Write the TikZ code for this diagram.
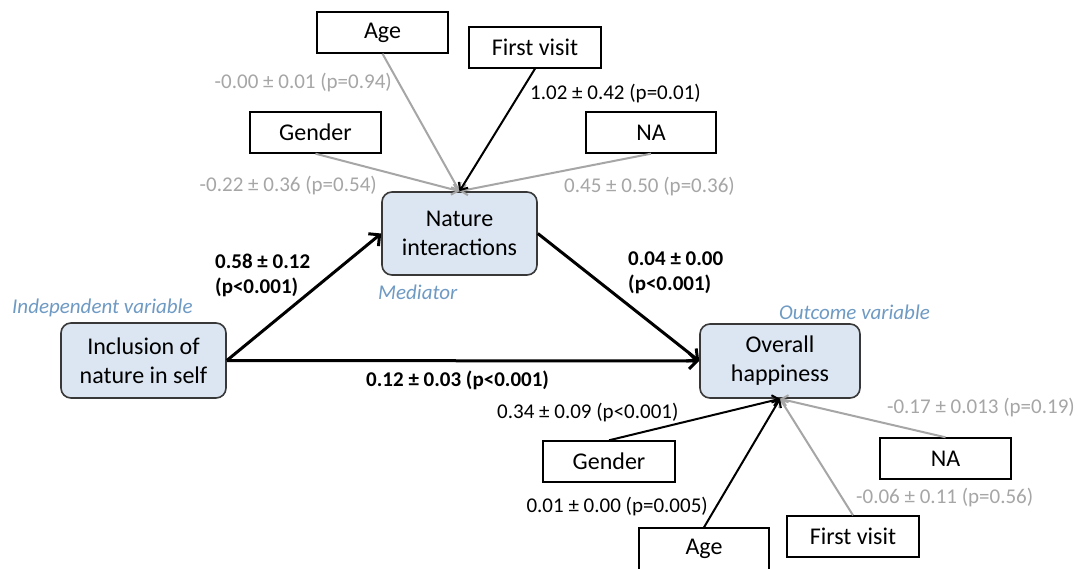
\documentclass[tikz,border=0pt]{standalone}
\usepackage{fontspec}
\setmainfont{Carlito}
\usetikzlibrary{arrows.meta,calc}
\definecolor{boxfill}{HTML}{DCE6F2}
\definecolor{boxline}{HTML}{383838}
\definecolor{grayc}{HTML}{A6A6A6}
\definecolor{rolec}{HTML}{6E9AC4}
\begin{document}
\begin{tikzpicture}[x=1pt,y=-1pt,
  mainbox/.style={draw=boxline, line width=1.6pt, fill=boxfill, rounded corners=10pt, align=center, font=\fontsize{24}{29}\selectfont, inner sep=0pt},
  covbox/.style={draw=black, line width=1.4pt, fill=white, font=\fontsize{24}{29}\selectfont, inner sep=0pt},
  lbl/.style={inner sep=0pt, font=\fontsize{21}{25}\selectfont},
  graylbl/.style={lbl, text=grayc},
  boldlbl/.style={inner sep=0pt, align=left, font=\fontsize{21}{25}\selectfont\bfseries},
  rolelbl/.style={inner sep=0pt, text=rolec, font=\fontsize{21}{25}\selectfont\itshape},
  mainarrow/.style={line width=3pt, -{Straight Barb[length=8pt,width=16pt,line width=3pt]}},
  blackarrow/.style={line width=2pt, -{Straight Barb[length=6pt,width=11pt,line width=2pt]}},
  grayarrow/.style={line width=2pt, grayc, -{Straight Barb[length=6pt,width=11pt,line width=2pt]}}
]
\clip (0,0) rectangle (1078,568);
\fill[white] (0,0) rectangle (1078,568);

% main boxes
\node[mainbox, minimum width=155pt, minimum height=83pt] (nat) at (459.5,233.5) {Nature\\interactions};
\node[mainbox, minimum width=165pt, minimum height=75pt] (inc) at (143.5,360.5) {Inclusion of\\nature in self};
\node[mainbox, minimum width=160pt, minimum height=74pt] (over) at (780,361) {Overall\\happiness};

% covariate boxes (top)
\node[covbox, minimum width=131pt, minimum height=41pt] (ageT) at (382.5,32.5) {Age};
\node[covbox, minimum width=132pt, minimum height=41pt] (fvT) at (535,47.5) {First visit};
\node[covbox, minimum width=131pt, minimum height=41pt] (genT) at (315.5,132.5) {Gender};
\node[covbox, minimum width=130pt, minimum height=41pt] (naT) at (651,132.5) {NA};

% covariate boxes (bottom)
\node[covbox, minimum width=132pt, minimum height=41pt] (genB) at (609,461.5) {Gender};
\node[covbox, minimum width=131pt, minimum height=41pt] (naB) at (945.5,458.5) {NA};
\node[covbox, minimum width=132pt, minimum height=41pt] (fvB) at (853,536.5) {First visit};
\node[covbox, minimum width=130pt, minimum height=42pt] (ageB) at (704,549) {Age};

% main paths
\draw[mainarrow] (inc.east) -- (nat.west);
\draw[mainarrow] (inc.east) -- (over.west);
\draw[mainarrow] (nat.east) -- (over.west);

% top covariate arrows
\draw[grayarrow] (ageT.south) -- (nat.north);
\draw[grayarrow] (genT.south) -- (nat.north);
\draw[grayarrow] (naT.south) -- (nat.north);
\draw[blackarrow] (fvT.south) -- (nat.north);

% bottom covariate arrows
\draw[grayarrow] (naB.north) -- (over.south);
\draw[grayarrow] (fvB.north) -- (over.south);
\draw[blackarrow] (genB.north) -- (over.south);
\draw[blackarrow] (ageB.north) -- (over.south);

% labels
\node[graylbl, anchor=east] (l1) at (392,83) {-0.00 ± 0.01 (p=0.94)};
\node[lbl, anchor=west] (l2) at (530,94) {1.02 ± 0.42 (p=0.01)};
\node[graylbl, anchor=east] (l3) at (377,186) {-0.22 ± 0.36 (p=0.54)};
\node[graylbl, anchor=west] (l4) at (564,187) {0.45 ± 0.50 (p=0.36)};
\node[boldlbl, anchor=west] (l5) at (215,275.5) {0.58 ± 0.12\\(p<0.001)};
\node[boldlbl, anchor=west] (l6) at (628,273) {0.04 ± 0.00\\(p<0.001)};
\node[boldlbl, anchor=west] (l7) at (366,380) {0.12 ± 0.03 (p<0.001)};
\node[lbl, anchor=west] (l8) at (497,413) {0.34 ± 0.09 (p<0.001)};
\node[graylbl, anchor=east] (l9) at (1075,408) {-0.17 ± 0.013 (p=0.19)};
\node[lbl, anchor=east] (l10) at (708,507) {0.01 ± 0.00 (p=0.005)};
\node[graylbl, anchor=west] (l11) at (856,498) {-0.06 ± 0.11 (p=0.56)};

\node[rolelbl, anchor=west] (r1) at (12,308) {Independent variable};
\node[rolelbl, anchor=west] (r2) at (378,292) {Mediator};
\node[rolelbl, anchor=west] (r3) at (779,312) {Outcome variable};
\end{tikzpicture}
\end{document}
